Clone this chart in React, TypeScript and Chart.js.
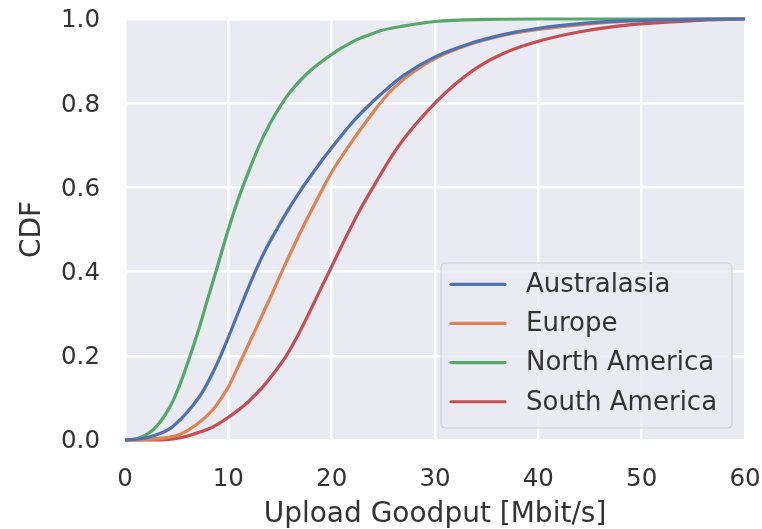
import React, { useEffect, useRef } from "react";
import { Chart, registerables } from "chart.js";

Chart.register(...registerables);

const seriesNames = ["Australasia", "Europe", "North America", "South America"];
const seriesColors = ["#4C72B0", "#DD8452", "#55A868", "#C44E52"];

const australasiaX = [0, 1.5, 3, 4.35, 5.5, 6.5, 7.4, 8.4, 9.2, 10.1, 11.44, 12.57, 13.6, 14.75, 16, 17, 18, 19, 20, 22.1, 23.7, 24.7, 26.9, 30, 33.4, 36.6, 40, 44.6, 48.8, 55, 60];
const australasiaY = [0, 0.003, 0.012, 0.027, 0.052, 0.08, 0.11, 0.155, 0.197, 0.25, 0.332, 0.398, 0.452, 0.503, 0.555, 0.593, 0.628, 0.662, 0.694, 0.757, 0.797, 0.82, 0.865, 0.91, 0.942, 0.963, 0.978, 0.99, 0.996, 0.999, 1.0];

const europeX = [0, 2.5, 4.35, 5.3, 6.9, 8.5, 9.25, 10, 11.44, 12.74, 14, 15, 17.1, 19.2, 20, 22.1, 24, 25.6, 27.9, 30, 33.4, 36.6, 40, 44.6, 48.8, 55, 60];
const europeY = [0, 0.002, 0.007, 0.013, 0.036, 0.072, 0.097, 0.126, 0.2, 0.268, 0.335, 0.39, 0.5, 0.6, 0.636, 0.714, 0.778, 0.826, 0.874, 0.906, 0.94, 0.961, 0.975, 0.988, 0.995, 0.999, 1.0];

const northAmericaX = [0, 1, 2.75, 3.9, 4.7, 5.5, 6.3, 7.1, 8.06, 8.8, 10, 11, 12, 13, 14, 15, 16, 17.6, 20, 22.1, 23.7, 24.7, 26.9, 30, 35, 40, 60];
const northAmericaY = [0, 0.002, 0.025, 0.06, 0.096, 0.144, 0.2, 0.26, 0.34, 0.4, 0.5, 0.575, 0.64, 0.7, 0.75, 0.792, 0.827, 0.87, 0.916, 0.947, 0.963, 0.972, 0.983, 0.994, 0.999, 1.0, 1.0];

const southAmericaX = [0, 4, 5.5, 7.25, 8.5, 10, 11.8, 13.4, 14.6, 15.6, 16.8, 17.9, 19, 20, 21, 22, 23, 24, 25.6, 27.2, 30, 32, 34.3, 36.6, 40, 44.6, 48.8, 55, 60];
const southAmericaY = [0, 0.001, 0.006, 0.019, 0.031, 0.054, 0.088, 0.128, 0.165, 0.2, 0.252, 0.306, 0.362, 0.412, 0.463, 0.512, 0.558, 0.6, 0.666, 0.722, 0.8, 0.846, 0.888, 0.918, 0.947, 0.972, 0.986, 0.996, 1.0];

const xTicks = [0, 10, 20, 30, 40, 50, 60];
const yTicks = [0, 0.2, 0.4, 0.6, 0.8, 1.0];

const xTitle = "Upload Goodput [Mbit/s]";
const yTitle = "CDF";

const FONT = "'DejaVu Sans', sans-serif";
const TEXT = "#333333";

function zip(xs: number[], ys: number[]) {
  return xs.map((x, i) => ({ x, y: ys[i] }));
}

const bgPlugin = {
  id: "bgPlugin",
  beforeDraw(chart: any) {
    const { ctx, chartArea, width, height } = chart;
    ctx.save();
    ctx.fillStyle = "#ffffff";
    ctx.fillRect(0, 0, width, height);
    ctx.fillStyle = "#EAEAF2";
    ctx.fillRect(chartArea.left, chartArea.top, chartArea.right - chartArea.left, chartArea.bottom - chartArea.top);
    ctx.restore();
  },
};

const legendPlugin = {
  id: "boxLegend",
  afterDatasetsDraw(chart: any) {
    const { ctx } = chart;
    const left = 441, top = 263, w = 291, h = 165, r = 5;
    ctx.save();
    ctx.beginPath();
    ctx.moveTo(left + r, top);
    ctx.lineTo(left + w - r, top);
    ctx.quadraticCurveTo(left + w, top, left + w, top + r);
    ctx.lineTo(left + w, top + h - r);
    ctx.quadraticCurveTo(left + w, top + h, left + w - r, top + h);
    ctx.lineTo(left + r, top + h);
    ctx.quadraticCurveTo(left, top + h, left, top + h - r);
    ctx.lineTo(left, top + r);
    ctx.quadraticCurveTo(left, top, left + r, top);
    ctx.closePath();
    ctx.fillStyle = "rgba(234,234,242,0.85)";
    ctx.fill();
    ctx.strokeStyle = "rgba(204,204,204,0.8)";
    ctx.lineWidth = 1.2;
    ctx.stroke();
    ctx.font = `26px ${FONT}`;
    ctx.textBaseline = "middle";
    ctx.textAlign = "left";
    chart.data.datasets.forEach((ds: any, i: number) => {
      const y = 284.3 + i * 39.15;
      ctx.strokeStyle = ds.borderColor;
      ctx.lineWidth = 3.2;
      ctx.lineCap = "round";
      ctx.beginPath();
      ctx.moveTo(451, y);
      ctx.lineTo(505, y);
      ctx.stroke();
      ctx.fillStyle = TEXT;
      ctx.fillText(ds.label, 526, y + 1);
    });
    ctx.restore();
  },
};

export default function App() {
  const ref = useRef<HTMLCanvasElement | null>(null);

  useEffect(() => {
    if (!ref.current) return;
    const xs = [australasiaX, europeX, northAmericaX, southAmericaX];
    const ys = [australasiaY, europeY, northAmericaY, southAmericaY];
    const chart = new Chart(ref.current, {
      type: "line",
      data: {
        datasets: seriesNames.map((name, i) => ({
          label: name,
          data: zip(xs[i], ys[i]),
          borderColor: seriesColors[i],
          backgroundColor: seriesColors[i],
          borderWidth: 3.2,
          pointRadius: 0,
          cubicInterpolationMode: "monotone" as const,
          fill: false,
          clip: 3,
        })),
      },
      options: {
        responsive: false,
        animation: false,
        devicePixelRatio: 1,
        layout: { padding: { top: 19, right: 17, left: 0, bottom: 0 } },
        plugins: {
          legend: { display: false },
          tooltip: { enabled: false },
        },
        scales: {
          x: {
            type: "linear",
            min: 0,
            max: 60,
            afterBuildTicks: (s: any) => {
              s.ticks = xTicks.map((v) => ({ value: v }));
            },
            ticks: {
              font: { family: FONT, size: 24.5 },
              color: TEXT,
              padding: 0,
              callback: (v: any) => String(v),
            },
            grid: { color: "#ffffff", lineWidth: 2.5, drawTicks: true, tickLength: 25, tickColor: "rgba(0,0,0,0)" },
            border: { display: false },
            title: {
              display: true,
              text: xTitle,
              font: { family: FONT, size: 28 },
              color: TEXT,
              padding: { top: 0, bottom: -3 },
            },
            afterFit: (s: any) => {
              s.height = 89;
            },
          },
          y: {
            type: "linear",
            min: 0,
            max: 1,
            afterBuildTicks: (s: any) => {
              s.ticks = yTicks.map((v) => ({ value: v }));
            },
            ticks: {
              font: { family: FONT, size: 24.5 },
              color: TEXT,
              padding: 0,
              labelOffset: 2,
              callback: (v: any) => Number(v).toFixed(1),
            },
            grid: { color: "#ffffff", lineWidth: 2.5, drawTicks: true, tickLength: 25, tickColor: "rgba(0,0,0,0)" },
            border: { display: false },
            title: {
              display: true,
              text: yTitle,
              font: { family: FONT, size: 28 },
              color: TEXT,
              padding: { top: 16, bottom: 0 },
            },
            afterFit: (s: any) => {
              s.width = 125;
            },
          },
        },
      },
      plugins: [bgPlugin, legendPlugin],
    });
    return () => chart.destroy();
  }, []);

  return (
    <div style={{ position: "fixed", left: 0, top: 0, width: 762, height: 529, background: "#fff" }}>
      <canvas ref={ref} width={762} height={529} style={{ display: "block", width: 762, height: 529 }} />
    </div>
  );
}
